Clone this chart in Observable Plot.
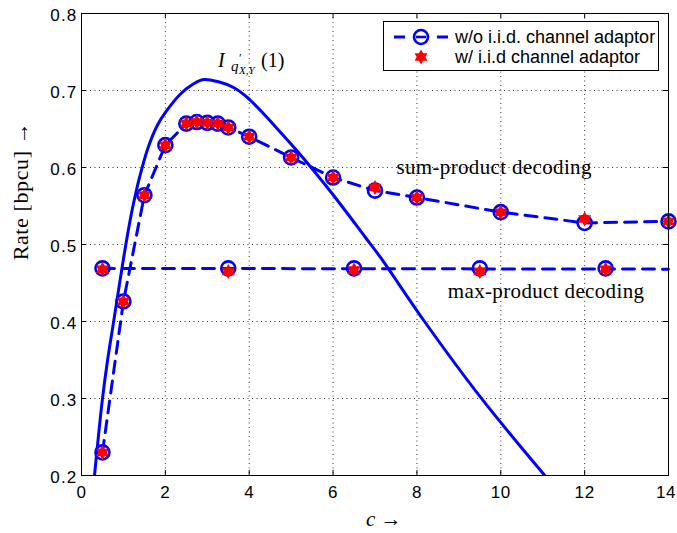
<!DOCTYPE html>
<html><head><meta charset="utf-8">
<script src="https://cdn.jsdelivr.net/npm/d3@7"></script>
<script src="https://cdn.jsdelivr.net/npm/@observablehq/plot@0.6"></script>
<style>body{margin:0;background:#fff} #chart{width:677px;height:533px}</style>
</head><body><div id="chart"></div>
<script>
// ---- data ----
const sumC      = [0.5, 1, 1.5, 2, 2.5, 2.75, 3, 3.25, 3.5, 4, 5, 6, 7, 8, 10, 12, 14];
const sumRateWo = [0.230, 0.426, 0.564, 0.629, 0.657, 0.659, 0.658, 0.657, 0.652, 0.640, 0.613, 0.587, 0.570, 0.561, 0.542, 0.528, 0.530];
const sumRateW  = [0.230, 0.426, 0.564, 0.629, 0.657, 0.659, 0.658, 0.657, 0.652, 0.640, 0.613, 0.587, 0.574, 0.561, 0.542, 0.533, 0.530];
const maxC      = [0.5, 3.5, 6.5, 9.5, 12.5];
const maxRateWo = [0.469, 0.469, 0.469, 0.469, 0.469];
const maxRateW  = [0.468, 0.465, 0.467, 0.465, 0.468];
const maxLineC    = [0.5, 14];
const maxLineRate = [0.469, 0.468];
const boundC    = [0.310, 0.365, 0.494, 0.620, 0.770, 0.930, 1.073, 1.216, 1.383, 1.598, 1.813, 2.027, 2.361, 2.647, 2.910, 3.267, 3.625, 3.911, 4.269, 4.555, 5.175, 5.939, 6.773, 7.131, 8.164, 9.516, 11.05];
const boundRate = [0.200, 0.230, 0.297, 0.349, 0.401, 0.457, 0.505, 0.547, 0.587, 0.6273, 0.6552, 0.6734, 0.6955, 0.7078, 0.7143, 0.7113, 0.7039, 0.6929, 0.674, 0.6571, 0.6195, 0.5688, 0.5091, 0.4832, 0.4013, 0.3017, 0.200];
const xTicks = [0, 2, 4, 6, 8, 10, 12, 14];
const yTicks = [0.2, 0.3, 0.4, 0.5, 0.6, 0.7, 0.8];
const seriesNames = ["w/o i.i.d. channel adaptor", "w/ i.i.d channel adaptor"];
const annotations = ["sum-product decoding", "max-product decoding"];
const xLabel = "c";
const yLabel = "Rate [bpcu] \u2192";

// ---- layout ----
const W = 677, H = 533, mL = 81, mR = 9, mT = 13, mB = 58;
const pw = W - mL - mR, ph = H - mT - mB;
const BLUE = "#0000ff", RED = "#ff0000";
const SERIF = "'Liberation Serif','Times New Roman',serif";
const SANS = "'Liberation Sans',Arial,Helvetica,sans-serif";

const hexagram = {
  draw(ctx, size) {
    const R = Math.sqrt(size / Math.PI), r = R / Math.sqrt(3);
    for (let i = 0; i < 12; i++) {
      const a = -Math.PI / 2 + i * Math.PI / 6, rad = i % 2 ? r : R;
      const x = rad * Math.cos(a), y = rad * Math.sin(a);
      i ? ctx.lineTo(x, y) : ctx.moveTo(x, y);
    }
    ctx.closePath();
  }
};
const zip = (a, b) => a.map((v, i) => ({c: v, r: b[i]}));

const plot = Plot.plot({
  width: W, height: H, marginLeft: mL, marginRight: mR, marginTop: mT, marginBottom: mB,
  x: {domain: [0, 14]}, y: {domain: [0.2, 0.8]},
  style: {fontFamily: SANS, background: "#fff", color: "#000"},
  marks: [
    Plot.gridX(xTicks.slice(1, -1), {stroke: "#333", strokeOpacity: 1, strokeDasharray: "1,3.5"}),
    Plot.gridY(yTicks.slice(1, -1), {stroke: "#333", strokeOpacity: 1, strokeDasharray: "1,3.5"}),
    Plot.line(zip(boundC, boundRate), {x: "c", y: "r", stroke: BLUE, strokeWidth: 3, curve: "catmull-rom", clip: true}),
    Plot.line(zip(sumC, sumRateWo), {x: "c", y: "r", stroke: BLUE, strokeWidth: 3, strokeDasharray: "12,8"}),
    Plot.line(zip(maxLineC, maxLineRate), {x: "c", y: "r", stroke: BLUE, strokeWidth: 3, strokeDasharray: "12,8"}),
    Plot.dot(zip(sumC, sumRateWo), {x: "c", y: "r", r: 7, stroke: BLUE, strokeWidth: 2.6, fill: "none"}),
    Plot.dot(zip(maxC, maxRateWo), {x: "c", y: "r", r: 7, stroke: BLUE, strokeWidth: 2.6, fill: "none"}),
    Plot.dot(zip(sumC, sumRateW), {x: "c", y: "r", r: 7.5, symbol: hexagram, fill: RED, stroke: "none"}),
    Plot.dot(zip(maxC, maxRateW), {x: "c", y: "r", r: 7.5, symbol: hexagram, fill: RED, stroke: "none"}),
    Plot.frame({stroke: "#000", strokeWidth: 1}),
    Plot.tickX(xTicks, {x: d => d, insetTop: ph - 5, stroke: "#000"}),
    Plot.tickX(xTicks, {x: d => d, insetBottom: ph - 5, stroke: "#000"}),
    Plot.tickY(yTicks, {y: d => d, insetRight: pw - 5, stroke: "#000"}),
    Plot.tickY(yTicks, {y: d => d, insetLeft: pw - 5, stroke: "#000"}),
    Plot.axisX(xTicks, {tickSize: 0, tickPadding: 10, fontSize: 17, label: null}),
    Plot.axisY(yTicks, {tickSize: 0, tickPadding: 4, fontSize: 17, label: null, tickFormat: ".1f", dy: 2}),
    Plot.text([annotations[0]], {x: [9.84], y: [0.600], text: d => d, fontFamily: SERIF, fontSize: 21, fill: "#000"}),
    Plot.text([annotations[1]], {x: [11.08], y: [0.439], text: d => d, fontFamily: SERIF, fontSize: 21, fill: "#000"})
  ]
});
document.getElementById("chart").appendChild(plot);

const sx = plot.scale("x"), sy = plot.scale("y");
const svg = d3.select(plot);
svg.selectAll('g[aria-label="y-axis tick label"] text').attr("letter-spacing", 1.2);
svg.selectAll('g[aria-label="x-axis tick label"] text').attr("letter-spacing", 0.6);
svg.selectAll('g[aria-label="x-axis tick label"] text').filter((d, i, n) => i === n.length - 1).attr("dx", -2.5);
svg.selectAll('g[aria-label="text"] text').attr("letter-spacing", 0.35);

// I_{q'_{X,Y}}(1) label
const lx = sx.apply(3.27), ly = sy.apply(0.730);
const t = svg.append("text").attr("font-family", SERIF).attr("fill", "#000").attr("text-anchor", "start").attr("y", ly);
t.append("tspan").attr("x", lx).attr("font-size", 20).attr("font-style", "italic").text("I");
t.append("tspan").attr("x", lx + 13).attr("dy", 4).attr("font-size", 15).attr("font-style", "italic").text("q");
t.append("tspan").attr("x", lx + 21).attr("dy", -9).attr("font-size", 12).text("\u2032");
t.append("tspan").attr("x", lx + 21).attr("dy", 12).attr("font-size", 11).attr("font-style", "italic").text("X,Y");
t.append("tspan").attr("x", lx + 43).attr("dy", -7).attr("font-size", 20).text("(1)");

// axis labels
svg.append("text").attr("transform", "translate(28,191) rotate(-90)").attr("text-anchor", "middle")
  .attr("font-family", SERIF).attr("font-size", 22).attr("letter-spacing", 0.6).attr("fill", "#000").text(yLabel);
const xl = svg.append("text").attr("x", 366).attr("y", 526).attr("text-anchor", "start").attr("font-family", SERIF).attr("font-size", 21).attr("fill", "#000");
xl.append("tspan").attr("font-style", "italic").text(xLabel);
xl.append("tspan").text(" \u2192");

// legend
const lg = svg.append("g").attr("text-anchor", "start");
lg.append("rect").attr("x", 383.5).attr("y", 21.5).attr("width", 275).attr("height", 49).attr("fill", "#fff").attr("stroke", "#000").attr("stroke-width", 1);
lg.append("line").attr("x1", 394).attr("x2", 448).attr("y1", 37).attr("y2", 37).attr("stroke", BLUE).attr("stroke-width", 3).attr("stroke-dasharray", "11,32,11");
lg.append("circle").attr("cx", 421).attr("cy", 37).attr("r", 7).attr("fill", "none").attr("stroke", BLUE).attr("stroke-width", 2.6);
lg.append("line").attr("x1", 416).attr("x2", 426).attr("y1", 37).attr("y2", 37).attr("stroke", BLUE).attr("stroke-width", 2.6);
lg.append("path").attr("transform", "translate(421,57)").attr("d", d3.symbol(hexagram, Math.PI * 7.5 * 7.5)()).attr("fill", RED);
seriesNames.forEach((s, i) => lg.append("text").attr("x", 455).attr("y", 43 + i * 20).attr("text-anchor", "start").attr("font-family", SANS).attr("font-size", 18).attr("fill", "#000").text(s));
</script>
</body></html>
